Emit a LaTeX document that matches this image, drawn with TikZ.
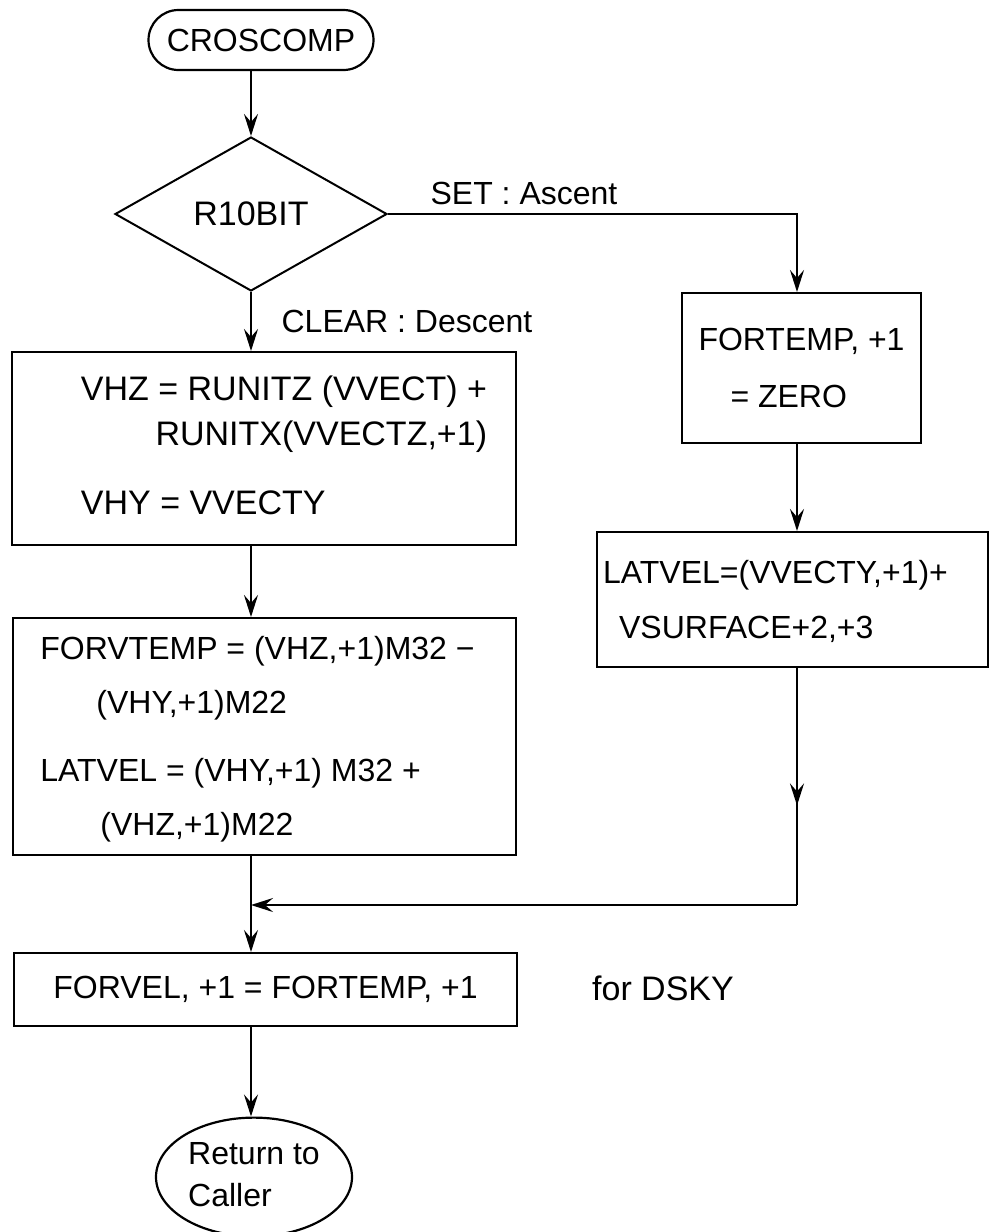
\documentclass[tikz,border=0pt]{standalone}
\usepackage{fontspec}
\setmainfont{Liberation Sans}
\usetikzlibrary{shapes.geometric,shapes.misc,arrows.meta,decorations.markings}
\begin{document}
\begin{tikzpicture}[x=0.5pt,y=-0.5pt,
  every node/.style={font=\fontsize{16}{22}\selectfont},
  box/.style={draw, line width=1pt, rectangle, inner sep=0pt},
  term/.style={draw, line width=1.1pt, rounded rectangle, inner sep=0pt},
  dec/.style={draw, line width=1pt, diamond, inner sep=0pt, shape aspect=1.75},
  lbl/.style={inner sep=1pt},
  tipstyle/.tip={Stealth[length=11pt,width=7pt,inset=4pt]},
  arr/.style={line width=1.3pt, -{tipstyle}},
  midarr/.style={line width=1.3pt, postaction={decorate},
    decoration={markings, mark=at position 0.58 with {\arrow{tipstyle}}}}]
\fill[white] (0,0) rectangle (991,1232);
\useasboundingbox (0,0) rectangle (991,1232);

% nodes
\node[term, minimum width=112.5pt, minimum height=30pt] (cros) at (261,40) {CROSCOMP};
\node[dec, minimum width=136pt, minimum height=77pt, font=\fontsize{17}{22}\selectfont] (dia) at (251,214) {R10BIT};
\node[lbl] (set) at (524,193) {SET : Ascent};
\node[lbl] (clr) at (407,321) {CLEAR : Descent};

\node[box, minimum width=252pt, minimum height=96.5pt, font=\fontsize{17}{22.5}\selectfont] (b1) at (264,448.5)
  {\hspace*{20pt}\begin{tabular}{@{}l@{}}VHZ = RUNITZ (VVECT) +\\ \hfill RUNITX(VVECTZ,+1)\\[12pt] VHY = VVECTY\end{tabular}};

\node[box, minimum width=251.5pt, minimum height=118.5pt, font=\fontsize{16}{27}\selectfont] (b2) at (264.5,736.5)
  {\begin{tabular}{@{}l@{}}FORVTEMP = (VHZ,+1)M32 −\\ \hspace*{28pt}(VHY,+1)M22\\[7pt] LATVEL = (VHY,+1) M32 +\\ \hspace*{30pt}(VHZ,+1)M22\end{tabular}\hspace*{7pt}};

\node[box, minimum width=251.5pt, minimum height=36.5pt] (b3) at (265.5,989.5) {FORVEL, +1 = FORTEMP, +1};
\node[lbl, font=\fontsize{17}{22}\selectfont] (dsky) at (663,988) {for DSKY};

\node[draw, ellipse, line width=1.1pt, minimum width=98pt, minimum height=52.5pt, inner sep=0pt, font=\fontsize{16}{21}\selectfont] (ret) at (254,1177)
  {\begin{tabular}{@{}l@{}}Return to\\Caller\end{tabular}};

\node[box, minimum width=119.5pt, minimum height=75pt, font=\fontsize{16}{28.5}\selectfont] (ft) at (801.5,368)
  {\begin{tabular}{@{}l@{}}FORTEMP, +1\\ \hspace*{16pt}= ZERO\end{tabular}};

\node[box, minimum width=195.5pt, minimum height=67.5pt, font=\fontsize{16}{27.5}\selectfont] (lat) at (792.5,599.5)
  {\begin{tabular}{@{}l@{}}LATVEL=(VVECTY,+1)+\\ \hspace*{8pt}VSURFACE+2,+3\end{tabular}\hspace*{17pt}};

% helper coordinates
\coordinate (rc) at (797,0);
\coordinate (join) at (dia.south |- 0,905);

% connectors
\draw[arr] (cros.south -| dia.north) -- (dia.north);
\draw[arr] (dia.south) -- (dia.south |- b1.north);
\draw[arr] (dia.east) -| (rc |- ft.north);
\draw[arr] (b1.south -| dia.south) -- (dia.south |- b2.north);
\draw[arr] (rc |- ft.south) -- (rc |- lat.north);
\draw[midarr] (rc |- lat.south) -- (rc |- join);
\draw[arr] (rc |- join) -- (join);
\draw[arr] (b2.south -| join) -- (join |- b3.north);
\draw[arr] (b3.south -| join) -- (join |- ret.north);
\end{tikzpicture}
\end{document}
